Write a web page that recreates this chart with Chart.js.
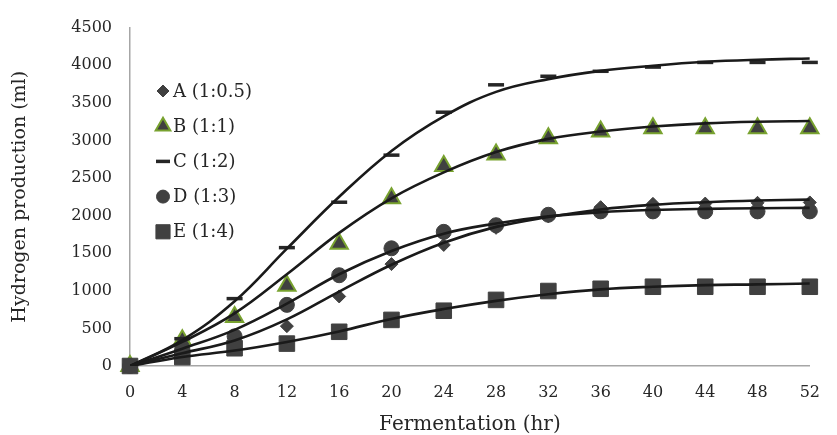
<!DOCTYPE html>
<html>
<head>
<meta charset="utf-8">
<script src="https://cdn.jsdelivr.net/npm/chart.js@4.4.1/dist/chart.umd.min.js"></script>
<style>
  html, body { margin: 0; padding: 0; background: #fff; }
  canvas { display: block; }
</style>
</head>
<body>
<canvas id="c" width="837" height="435"></canvas>
<script>
// fermentation time (hr)
const hours = [0, 4, 8, 12, 16, 20, 24, 28, 32, 36, 40, 44, 48, 52];

// measured points (ml)
const seriesA = [0, 150, 300, 530, 925, 1355, 1610, 1837, 1990, 2112, 2156, 2160, 2170, 2175];
const seriesB = [0, 341, 652, 1067, 1627, 2230, 2659, 2812, 3027, 3118, 3162, 3162, 3162, 3162];
const seriesC = [0, 363, 896, 1574, 2178, 2804, 3375, 3739, 3853, 3919, 3975, 4037, 4037, 4037];
const seriesD = [0, 236, 394, 813, 1207, 1565, 1784, 1872, 2011, 2056, 2056, 2056, 2056, 2056];
const seriesE = [0, 118, 236, 298, 455, 613, 735, 879, 997, 1027, 1054, 1054, 1054, 1054];

// fitted curves at the same hours
const fitA = [0, 170, 340, 620, 990, 1347, 1640, 1850, 1981, 2082, 2143, 2178, 2200, 2213];
const fitB = [0, 320, 700, 1220, 1770, 2230, 2575, 2845, 3020, 3118, 3184, 3227, 3249, 3258];
const fitC = [0, 345, 860, 1560, 2250, 2860, 3320, 3645, 3815, 3925, 3993, 4045, 4073, 4089];
const fitD = [0, 230, 480, 830, 1220, 1530, 1760, 1895, 1990, 2045, 2075, 2090, 2098, 2103];
const fitE = [0, 120, 205, 320, 460, 626, 757, 866, 954, 1019, 1054, 1076, 1085, 1098];

const labels = ['A (1:0.5)', 'B (1:1)', 'C (1:2)', 'D (1:3)', 'E (1:4)'];
const yTicks = [0, 500, 1000, 1500, 2000, 2500, 3000, 3500, 4000, 4500];

const FONT = "'DejaVu Serif', serif";
const GREY = '#404040';
const GREEN = '#78a22f';

const pts = (vals) => hours.map((h, i) => ({ x: h, y: vals[i] }));

const markerStyles = [
  { pointStyle: 'rectRot', pointRadius: 6.5, pointBackgroundColor: GREY, pointBorderColor: GREY, pointBorderWidth: 1 },
  { pointStyle: 'triangle', pointRadius: 10, pointBackgroundColor: GREY, pointBorderColor: GREEN, pointBorderWidth: 2 },
  { pointStyle: 'line', pointRadius: 8, pointBackgroundColor: '#262626', pointBorderColor: '#262626', pointBorderWidth: 3.5 },
  { pointStyle: 'circle', pointRadius: 7.5, pointBackgroundColor: GREY, pointBorderColor: GREY, pointBorderWidth: 1 },
  { pointStyle: 'rect', pointRadius: 11, pointBackgroundColor: GREY, pointBorderColor: GREY, pointBorderWidth: 1 }
];
const legendRadius = [6, 8.5, 7, 6.5, 10];

const markerData = [seriesA, seriesB, seriesC, seriesD, seriesE];
const fitData = [fitA, fitB, fitC, fitD, fitE];

const datasets = [];
fitData.forEach((vals, i) => {
  datasets.push({
    label: labels[i] + ' fit',
    data: pts(vals),
    showLine: true,
    borderColor: '#1a1a1a',
    borderWidth: 2.6,
    pointRadius: 0,
    tension: 0.4,
    order: 0
  });
});
markerData.forEach((vals, i) => {
  datasets.push(Object.assign({
    label: labels[i],
    data: pts(vals),
    showLine: false,
    clip: false,
    order: 5 - i
  }, markerStyles[i]));
});

// legend drawn inside the plot, top-left
const insideLegend = {
  id: 'insideLegend',
  afterDraw(chart) {
    const ctx = chart.ctx;
    const x0 = 163, y0 = 91, step = 35.2;
    ctx.save();
    labels.forEach((txt, i) => {
      const s = markerStyles[i];
      const y = y0 + i * step;
      ctx.fillStyle = s.pointBackgroundColor;
      ctx.strokeStyle = s.pointBorderColor;
      ctx.lineWidth = s.pointBorderWidth;
      Chart.helpers.drawPoint(ctx, {
        pointStyle: s.pointStyle, radius: legendRadius[i],
        borderWidth: s.pointBorderWidth, rotation: 0
      }, x0, y);
      ctx.fillStyle = '#262626';
      ctx.font = '18px ' + FONT;
      ctx.textAlign = 'left';
      ctx.textBaseline = 'middle';
      ctx.fillText(txt, x0 + 10, y + 1);
    });
    ctx.restore();
  }
};

new Chart(document.getElementById('c'), {
  type: 'scatter',
  data: { datasets: datasets },
  plugins: [insideLegend],
  options: {
    responsive: false,
    devicePixelRatio: 1,
    animation: false,
    layout: { padding: { left: 0, top: 23, right: 11, bottom: 0 } },
    plugins: { legend: { display: false }, tooltip: { enabled: false } },
    scales: {
      x: {
        type: 'linear',
        min: 0,
        max: 52,
        afterFit: (s) => { s.height = 69; },
        grid: { display: false, drawTicks: false },
        border: { display: true, color: '#a6a6a6', width: 1.5 },
        ticks: { stepSize: 4, padding: 17, color: '#262626', font: { family: FONT, size: 16 } },
        title: {
          display: true,
          text: 'Fermentation (hr)',
          color: '#262626',
          font: { family: FONT, size: 20, lineHeight: 1 },
          padding: { top: 0, bottom: 0 }
        }
      },
      y: {
        min: 0,
        max: 4500,
        afterFit: (s) => { s.width = 130; },
        afterBuildTicks: (s) => { s.ticks = yTicks.map(v => ({ value: v })); },
        grid: { display: false, drawTicks: false },
        border: { display: true, color: '#a6a6a6', width: 1.5 },
        ticks: {
          padding: 18, color: '#262626', font: { family: FONT, size: 16 },
          callback: (v) => String(v)
        },
        title: {
          display: true,
          text: 'Hydrogen production (ml)',
          color: '#262626',
          font: { family: FONT, size: 19 },
          padding: { top: 9, bottom: 0 }
        }
      }
    }
  }
});
</script>
</body>
</html>
